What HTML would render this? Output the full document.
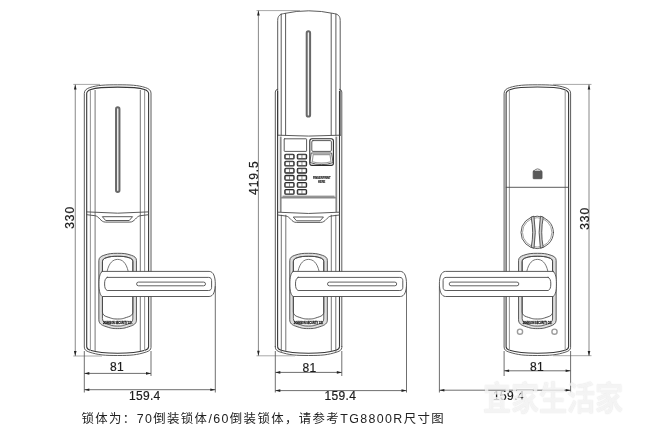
<!DOCTYPE html>
<html lang="zh-CN">
<head>
<meta charset="utf-8">
<title>TG8800R 尺寸图</title>
<style>
html,body{margin:0;padding:0;background:#fff;}
body{width:646px;height:434px;overflow:hidden;position:relative;filter:grayscale(1);font-family:"Liberation Sans","Noto Sans CJK SC",sans-serif;}
svg{position:absolute;left:0;top:0;display:block;}
.o{fill:none;stroke:#484848;stroke-width:0.9;stroke-linecap:round;stroke-linejoin:round;}
.b{fill:none;stroke:#383838;stroke-width:1.1;stroke-linejoin:round;}
.m{fill:none;stroke:#666;stroke-width:0.9;}
.s{fill:#f0f0f0;stroke:#686868;stroke-width:2.0;}
.o2{fill:none;stroke:#2a2a2a;stroke-width:1.3;stroke-linejoin:round;}
.g{fill:none;stroke:#9a9a9a;stroke-width:1.1;}
.key{fill:#808080;stroke:#2c2c2c;stroke-width:1.1;}
.gb{fill:none;stroke:#8a8a8a;stroke-width:1.8;}
.kw{fill:#fff;stroke:none;}
.d{fill:none;stroke:#555;stroke-width:0.85;}
.dv{fill:none;stroke:#7a7a7a;stroke-width:0.9;}
.de{fill:none;stroke:#a8a8a8;stroke-width:1.0;}
.a{fill:#222;stroke:none;}
.t{font-family:"Liberation Sans",sans-serif;font-size:12px;fill:#1c1c1c;letter-spacing:0.3px;stroke:#1c1c1c;stroke-width:0.2px;}
.tv{letter-spacing:0.9px;}
.brand{font-family:"Liberation Sans",sans-serif;font-size:4px;font-weight:bold;fill:#111;stroke:#111;stroke-width:0.25px;}
.fp{font-family:"Liberation Sans",sans-serif;font-size:2.6px;font-weight:bold;fill:#1a1a1a;stroke:#1a1a1a;stroke-width:0.15px;}
.cap{position:absolute;left:81.5px;top:408.8px;margin:0;font-size:12.4px;line-height:20px;letter-spacing:1.4px;color:#222;white-space:nowrap;}
.wm{position:absolute;left:483px;top:376.5px;margin:0;font-size:28px;line-height:44px;font-weight:bold;letter-spacing:0px;transform:scale(1,1.18);transform-origin:0 50%;color:rgba(255,255,255,0.72);text-shadow:0 0 1px rgba(120,120,120,0.3);white-space:nowrap;font-family:"Liberation Sans","Noto Sans CJK SC",sans-serif;}
</style>
</head>
<body>
<svg width="646" height="434" viewBox="0 0 646 434">
<defs>
<clipPath id="cm"><rect x="270" y="346" width="80" height="20"/></clipPath>
<clipPath id="cm2"><rect x="270" y="346.5" width="80" height="20"/></clipPath>
</defs>
<path class="o" d="M84.30,93.10 C84.30,90.07 86.77,88.60 89.80,87.60 C97.44,85.08 105.12,84.80 117.65,84.80 C130.18,84.80 137.86,85.08 145.50,87.60 C148.53,88.60 151.00,90.07 151.00,93.10 L151.00,347.40 C151.00,349.88 148.97,351.08 146.50,351.90 C136.68,355.14 130.63,355.50 117.65,355.50 C104.67,355.50 98.62,355.14 88.80,351.90 C86.33,351.08 84.30,349.88 84.30,347.40 Z" />
<path class="b" d="M86.70,93.60 C86.70,91.29 88.59,90.16 90.90,89.40 C97.17,87.33 105.61,87.10 117.65,87.10 C129.69,87.10 138.13,87.33 144.40,89.40 C146.71,90.16 148.60,91.29 148.60,93.60 L148.60,346.70 C148.60,348.68 146.98,349.65 145.00,350.30 C136.82,353.00 129.96,353.30 117.65,353.30 C105.34,353.30 98.48,353.00 90.30,350.30 C88.32,349.65 86.70,348.68 86.70,346.70 Z" />
<line class="g" x1="90.40" y1="90.00" x2="90.40" y2="351.00"/>
<line class="m" x1="95.10" y1="90.00" x2="95.10" y2="351.00"/>
<line class="m" x1="140.30" y1="90.00" x2="140.30" y2="351.00"/>
<line class="g" x1="144.60" y1="90.00" x2="144.60" y2="351.00"/>
<rect class="s" x="116.05" y="107.30" width="3.40" height="84.60" rx="1.7" />
<path class="o" d="M86.70,211.90 Q117.65,214.50 148.60,211.90" />
<path class="o" d="M86.70,214.70 L94.95,215.70 C99.45,216.30 100.45,222.10 105.45,222.10 L129.85,222.10 C134.85,222.10 135.85,216.30 140.35,215.70 L148.60,214.70" />
<path class="o" d="M102.75,216.70 L132.55,216.70 L129.25,220.50 L106.05,220.50 Z" />
<path class="o" d="M98.85,260.30 C98.85,257.55 101.10,256.21 103.85,255.30 C109.30,253.50 111.44,253.30 117.65,253.30 C123.86,253.30 126.00,253.50 131.45,255.30 C134.20,256.21 136.45,257.55 136.45,260.30 L136.45,320.20 C136.45,323.50 133.75,325.11 130.45,326.20 C123.90,328.36 123.41,328.60 117.65,328.60 C111.89,328.60 111.40,328.36 104.85,326.20 C101.55,325.11 98.85,323.50 98.85,320.20 Z" style="fill:#dedede"/>
<path class="o" d="M102.45,261.40 C102.45,259.42 104.07,258.45 106.05,257.80 C110.14,256.45 112.43,256.30 117.65,256.30 C122.87,256.30 125.16,256.45 129.25,257.80 C131.23,258.45 132.85,259.42 132.85,261.40 L132.85,319.00 C132.85,321.75 130.60,323.09 127.85,324.00 C122.40,325.80 122.24,326.00 117.65,326.00 C113.06,326.00 112.90,325.80 107.45,324.00 C104.70,323.09 102.45,321.75 102.45,319.00 Z" style="fill:#fff"/>
<path class="o" d="M102.45,261.40 C102.45,259.42 104.07,258.45 106.05,257.80 C110.14,256.45 112.43,256.30 117.65,256.30 C122.87,256.30 125.16,256.45 129.25,257.80 C131.23,258.45 132.85,259.42 132.85,261.40 L132.85,312.30 C132.85,314.78 130.83,315.98 128.35,316.80 C122.35,318.78 122.47,319.00 117.65,319.00 C112.84,319.00 112.95,318.78 106.95,316.80 C104.48,315.98 102.45,314.78 102.45,312.30 Z" />
<path class="m" d="M107.05,271.6 C109.05,262.5 113.15,259.4 117.65,259.4 C122.15,259.4 126.25,262.5 128.25,271.6" />
<text class="brand" transform="translate(117.65,324.3) scale(0.6,1)" text-anchor="middle">JOHNSON SECURITY CO.</text>
<path class="o" d="M102.20,271.40 L209.10,271.40 C213.50,271.40 215.30,276.90 215.30,283.95 C215.30,291.00 213.50,296.50 209.10,296.50 L102.20,296.50 C99.60,294.50 99.00,289.95 99.00,283.95 C99.00,277.95 99.60,273.40 102.20,271.40 Z" style="fill:#fff"/>
<path class="o" d="M107.20,277.40 L208.60,277.40 C210.80,277.40 211.60,278.90 211.60,280.60 L211.60,287.30 C211.60,289.00 210.80,290.50 208.60,290.50 L107.20,290.50 C105.20,289.50 104.60,287.45 104.60,283.95 C104.60,280.45 105.20,278.40 107.20,277.40 Z" />
<rect class="m" x="136.60" y="282.10" width="68.90" height="3.70" rx="1.85" style="stroke:#505050"/>
<line class="de" x1="73.30" y1="84.40" x2="100.00" y2="84.40"/>
<line class="de" x1="73.30" y1="356.00" x2="102.00" y2="356.00"/>
<line class="dv" x1="75.25" y1="84.40" x2="75.25" y2="356.00"/>
<polygon class="a" points="75.25,84.40 73.95,89.40 76.55,89.40"/>
<polygon class="a" points="75.25,356.00 73.95,351.00 76.55,351.00"/>
<text class="t tv" id="t7" text-anchor="middle" transform="translate(73.95,217.35) rotate(-90)">330</text>
<line class="d" x1="84.30" y1="351.00" x2="84.30" y2="392.50"/>
<line class="d" x1="151.00" y1="351.00" x2="151.00" y2="376.00"/>
<line class="d" x1="215.30" y1="286.00" x2="215.30" y2="392.50"/>
<line class="d" x1="84.30" y1="373.40" x2="151.00" y2="373.40"/>
<polygon class="a" points="84.30,373.40 89.30,372.10 89.30,374.70"/>
<polygon class="a" points="151.00,373.40 146.00,372.10 146.00,374.70"/>
<text class="t" id="t1" x="116.90" y="371.15" text-anchor="middle">81</text>
<line class="d" x1="84.30" y1="389.70" x2="215.30" y2="389.70"/>
<polygon class="a" points="84.30,389.70 89.30,388.40 89.30,391.00"/>
<polygon class="a" points="215.30,389.70 210.30,388.40 210.30,391.00"/>
<text class="t" id="t2" x="144.75" y="399.55" text-anchor="middle">159.4</text>
<path class="o" d="M275.30,346.5 L275.30,92 Q275.30,89.6 277.70,89.2" />
<path class="o" d="M341.80,346.5 L341.80,92 Q341.80,89.6 339.40,89.2" />
<path class="o" d="M275.30,68.70 C275.30,65.67 277.78,64.20 280.80,63.20 C289.53,60.32 296.06,60.00 308.55,60.00 C321.04,60.00 327.57,60.32 336.30,63.20 C339.32,64.20 341.80,65.67 341.80,68.70 L341.80,347.40 C341.80,349.88 339.78,351.08 337.30,351.90 C327.48,355.14 321.49,355.50 308.55,355.50 C295.61,355.50 289.62,355.14 279.80,351.90 C277.32,351.08 275.30,349.88 275.30,347.40 Z" clip-path="url(#cm)"/>
<path class="b" d="M277.60,66.80 C277.60,64.49 279.49,63.36 281.80,62.60 C288.89,60.26 296.51,60.00 308.55,60.00 C320.59,60.00 328.21,60.26 335.30,62.60 C337.61,63.36 339.50,64.49 339.50,66.80 L339.50,346.70 C339.50,348.68 337.88,349.65 335.90,350.30 C327.72,353.00 320.86,353.30 308.55,353.30 C296.24,353.30 289.38,353.00 281.20,350.30 C279.22,349.65 277.60,348.68 277.60,346.70 Z" clip-path="url(#cm2)"/>
<path class="o" d="M277.70,135.5 L277.70,20.5 C277.70,16 279.70,14.3 283.70,13.6 Q308.55,8.0 334.20,13.6 C338.20,14.3 340.20,16 340.20,20.5 L340.20,135.5" />
<line class="o" x1="281.20" y1="14.00" x2="281.20" y2="135.00"/>
<line class="o" x1="285.60" y1="13.60" x2="285.60" y2="135.00"/>
<line class="o" x1="331.20" y1="13.60" x2="331.20" y2="135.00"/>
<line class="o" x1="335.90" y1="14.00" x2="335.90" y2="135.00"/>
<rect class="s" x="306.70" y="31.20" width="3.40" height="85.40" rx="1.7" />
<path class="o" d="M277.70,135.2 Q308.55,137.0 340.20,135.2" />
<line class="gb" x1="280.70" y1="136.60" x2="280.70" y2="212.00"/>
<line class="gb" x1="336.30" y1="136.60" x2="336.30" y2="212.00"/>
<rect class="o" x="284.20" y="138.80" width="22.40" height="12.60" rx="0.5" />
<rect class="o2" x="309.80" y="138.80" width="23.60" height="26.60" rx="2.2" style="stroke-width:1.1"/>
<rect class="o" x="311.80" y="140.60" width="19.60" height="10.80" rx="1.2" />
<path class="o" d="M311.6,153.0 L331.6,153.0 L333.0,162.6 Q321.6,166.8 310.2,162.6 Z" />
<path class="g" d="M313.2,154.6 L330.0,154.6 L331.0,161.8 Q321.6,164.4 312.2,161.8 Z" />
<rect class="key" x="284.80" y="154.20" width="9.30" height="4.80" rx="1.1" />
<rect class="kw" x="285.90" y="155.20" width="3.10" height="2.80" rx="0.3" />
<rect class="kw" x="289.90" y="155.20" width="3.10" height="2.80" rx="0.3" />
<rect class="key" x="297.30" y="154.20" width="9.30" height="4.80" rx="1.1" />
<rect class="kw" x="298.40" y="155.20" width="3.10" height="2.80" rx="0.3" />
<rect class="kw" x="302.40" y="155.20" width="3.10" height="2.80" rx="0.3" />
<rect class="key" x="284.80" y="161.26" width="9.30" height="4.80" rx="1.1" />
<rect class="kw" x="285.90" y="162.26" width="3.10" height="2.80" rx="0.3" />
<rect class="kw" x="289.90" y="162.26" width="3.10" height="2.80" rx="0.3" />
<rect class="key" x="297.30" y="161.26" width="9.30" height="4.80" rx="1.1" />
<rect class="kw" x="298.40" y="162.26" width="3.10" height="2.80" rx="0.3" />
<rect class="kw" x="302.40" y="162.26" width="3.10" height="2.80" rx="0.3" />
<rect class="key" x="284.80" y="168.32" width="9.30" height="4.80" rx="1.1" />
<rect class="kw" x="285.90" y="169.32" width="3.10" height="2.80" rx="0.3" />
<rect class="kw" x="289.90" y="169.32" width="3.10" height="2.80" rx="0.3" />
<rect class="key" x="297.30" y="168.32" width="9.30" height="4.80" rx="1.1" />
<rect class="kw" x="298.40" y="169.32" width="3.10" height="2.80" rx="0.3" />
<rect class="kw" x="302.40" y="169.32" width="3.10" height="2.80" rx="0.3" />
<rect class="key" x="284.80" y="175.38" width="9.30" height="4.80" rx="1.1" />
<rect class="kw" x="285.90" y="176.38" width="3.10" height="2.80" rx="0.3" />
<rect class="kw" x="289.90" y="176.38" width="3.10" height="2.80" rx="0.3" />
<rect class="key" x="297.30" y="175.38" width="9.30" height="4.80" rx="1.1" />
<rect class="kw" x="298.40" y="176.38" width="3.10" height="2.80" rx="0.3" />
<rect class="kw" x="302.40" y="176.38" width="3.10" height="2.80" rx="0.3" />
<rect class="key" x="284.80" y="182.44" width="9.30" height="4.80" rx="1.1" />
<rect class="kw" x="285.90" y="183.44" width="3.10" height="2.80" rx="0.3" />
<rect class="kw" x="289.90" y="183.44" width="3.10" height="2.80" rx="0.3" />
<rect class="key" x="297.30" y="182.44" width="9.30" height="4.80" rx="1.1" />
<rect class="kw" x="298.40" y="183.44" width="3.10" height="2.80" rx="0.3" />
<rect class="kw" x="302.40" y="183.44" width="3.10" height="2.80" rx="0.3" />
<rect class="key" x="284.80" y="189.50" width="9.30" height="4.80" rx="1.1" />
<rect class="kw" x="285.90" y="190.50" width="3.10" height="2.80" rx="0.3" />
<rect class="kw" x="289.90" y="190.50" width="3.10" height="2.80" rx="0.3" />
<rect class="key" x="297.30" y="189.50" width="9.30" height="4.80" rx="1.1" />
<rect class="kw" x="298.40" y="190.50" width="3.10" height="2.80" rx="0.3" />
<rect class="kw" x="302.40" y="190.50" width="3.10" height="2.80" rx="0.3" />
<text class="fp" x="321.7" y="179.2" text-anchor="middle">FINGERPRINT</text>
<text class="fp" x="321.7" y="182.5" text-anchor="middle">HERE</text>
<line class="gb" x1="280.70" y1="197.60" x2="336.30" y2="197.60"/>
<line class="m" x1="282.50" y1="196.20" x2="334.50" y2="196.20"/>
<line class="b" x1="277.60" y1="91.00" x2="277.60" y2="346.80"/>
<line class="b" x1="339.50" y1="91.00" x2="339.50" y2="346.80"/>
<line class="m" x1="281.30" y1="214.80" x2="281.30" y2="351.80"/>
<line class="m" x1="285.80" y1="214.80" x2="285.80" y2="351.80"/>
<line class="m" x1="331.30" y1="214.80" x2="331.30" y2="351.80"/>
<line class="m" x1="335.80" y1="214.80" x2="335.80" y2="351.80"/>
<path class="o" d="M277.60,212.20 Q308.55,214.80 339.50,212.20" />
<path class="o" d="M277.60,215.00 L285.85,216.00 C290.35,216.60 291.35,222.40 296.35,222.40 L320.75,222.40 C325.75,222.40 326.75,216.60 331.25,216.00 L339.50,215.00" />
<path class="o" d="M293.65,217.00 L323.45,217.00 L320.15,220.80 L296.95,220.80 Z" />
<path class="o" d="M289.75,260.30 C289.75,257.55 292.00,256.21 294.75,255.30 C300.20,253.50 302.34,253.30 308.55,253.30 C314.76,253.30 316.90,253.50 322.35,255.30 C325.10,256.21 327.35,257.55 327.35,260.30 L327.35,320.20 C327.35,323.50 324.65,325.11 321.35,326.20 C314.80,328.36 314.31,328.60 308.55,328.60 C302.79,328.60 302.30,328.36 295.75,326.20 C292.45,325.11 289.75,323.50 289.75,320.20 Z" style="fill:#dedede"/>
<path class="o" d="M293.35,261.40 C293.35,259.42 294.97,258.45 296.95,257.80 C301.04,256.45 303.33,256.30 308.55,256.30 C313.77,256.30 316.06,256.45 320.15,257.80 C322.13,258.45 323.75,259.42 323.75,261.40 L323.75,319.00 C323.75,321.75 321.50,323.09 318.75,324.00 C313.30,325.80 313.14,326.00 308.55,326.00 C303.96,326.00 303.80,325.80 298.35,324.00 C295.60,323.09 293.35,321.75 293.35,319.00 Z" style="fill:#fff"/>
<path class="o" d="M293.35,261.40 C293.35,259.42 294.97,258.45 296.95,257.80 C301.04,256.45 303.33,256.30 308.55,256.30 C313.77,256.30 316.06,256.45 320.15,257.80 C322.13,258.45 323.75,259.42 323.75,261.40 L323.75,312.30 C323.75,314.78 321.73,315.98 319.25,316.80 C313.25,318.78 313.37,319.00 308.55,319.00 C303.74,319.00 303.85,318.78 297.85,316.80 C295.38,315.98 293.35,314.78 293.35,312.30 Z" />
<path class="m" d="M297.95,271.6 C299.95,262.5 304.05,259.4 308.55,259.4 C313.05,259.4 317.15,262.5 319.15,271.6" />
<text class="brand" transform="translate(308.55,324.3) scale(0.6,1)" text-anchor="middle">JOHNSON SECURITY CO.</text>
<path class="o" d="M293.10,271.40 L400.30,271.40 C404.70,271.40 406.50,276.90 406.50,283.95 C406.50,291.00 404.70,296.50 400.30,296.50 L293.10,296.50 C290.50,294.50 289.90,289.95 289.90,283.95 C289.90,277.95 290.50,273.40 293.10,271.40 Z" style="fill:#fff"/>
<path class="o" d="M298.10,277.40 L399.80,277.40 C402.00,277.40 402.80,278.90 402.80,280.60 L402.80,287.30 C402.80,289.00 402.00,290.50 399.80,290.50 L298.10,290.50 C296.10,289.50 295.50,287.45 295.50,283.95 C295.50,280.45 296.10,278.40 298.10,277.40 Z" />
<rect class="m" x="327.50" y="282.10" width="69.20" height="3.70" rx="1.85" style="stroke:#505050"/>
<line class="de" x1="256.50" y1="10.60" x2="300.00" y2="10.60"/>
<line class="de" x1="256.50" y1="355.80" x2="295.00" y2="355.80"/>
<line class="dv" x1="258.40" y1="10.60" x2="258.40" y2="355.80"/>
<polygon class="a" points="258.40,10.60 257.10,15.60 259.70,15.60"/>
<polygon class="a" points="258.40,355.80 257.10,350.80 259.70,350.80"/>
<text class="t tv" id="t8" text-anchor="middle" transform="translate(257.55,177.65) rotate(-90)">419.5</text>
<line class="d" x1="275.30" y1="351.00" x2="275.30" y2="392.50"/>
<line class="d" x1="341.80" y1="351.00" x2="341.80" y2="376.00"/>
<line class="d" x1="406.50" y1="286.00" x2="406.50" y2="392.50"/>
<line class="d" x1="275.30" y1="372.40" x2="341.80" y2="372.40"/>
<polygon class="a" points="275.30,372.40 280.30,371.10 280.30,373.70"/>
<polygon class="a" points="341.80,372.40 336.80,371.10 336.80,373.70"/>
<text class="t" id="t3" x="309.60" y="371.60" text-anchor="middle">81</text>
<line class="d" x1="275.30" y1="390.60" x2="406.50" y2="390.60"/>
<polygon class="a" points="275.30,390.60 280.30,389.30 280.30,391.90"/>
<polygon class="a" points="406.50,390.60 401.50,389.30 401.50,391.90"/>
<text class="t" id="t4" x="340.35" y="399.95" text-anchor="middle">159.4</text>
<path class="o" d="M504.10,93.10 C504.10,90.07 506.58,88.60 509.60,87.60 C517.24,85.08 524.86,84.80 537.35,84.80 C549.84,84.80 557.46,85.08 565.10,87.60 C568.12,88.60 570.60,90.07 570.60,93.10 L570.60,347.40 C570.60,349.88 568.58,351.08 566.10,351.90 C556.28,355.14 550.29,355.50 537.35,355.50 C524.41,355.50 518.42,355.14 508.60,351.90 C506.12,351.08 504.10,349.88 504.10,347.40 Z" />
<path class="b" d="M506.10,93.80 C506.10,91.38 508.08,90.20 510.50,89.40 C517.05,87.24 525.27,87.00 537.35,87.00 C549.43,87.00 557.65,87.24 564.20,89.40 C566.62,90.20 568.60,91.38 568.60,93.80 L568.60,346.70 C568.60,348.68 566.98,349.65 565.00,350.30 C556.82,353.00 549.79,353.30 537.35,353.30 C524.91,353.30 517.88,353.00 509.70,350.30 C507.72,349.65 506.10,348.68 506.10,346.70 Z" />
<line class="g" x1="509.40" y1="90.00" x2="509.40" y2="351.00"/>
<line class="g" x1="565.20" y1="90.00" x2="565.20" y2="351.00"/>
<line class="o" x1="506.20" y1="187.30" x2="568.50" y2="187.30"/>
<path class="m" d="M533.3,171.4 Q537.6,166.4 541.9,171.4 Z" style="fill:#fff"/>
<rect class="o" x="533.20" y="171.20" width="8.80" height="7.50" rx="0.4" style="fill:#5a5a5a;stroke:#555"/>
<circle class="o" cx="537.2" cy="232.4" r="16.2"/>
<circle class="g" cx="537.2" cy="232.4" r="14.7" style="stroke-width:0.9"/>
<path class="o" d="M531.20,217.50 Q534.20,232.40 531.20,247.30 L534.00,248.20 Q536.60,232.40 534.00,216.60 Z" style="fill:#cfcfcf"/>
<path class="o" d="M543.20,217.50 Q540.20,232.40 543.20,247.30 L540.40,248.20 Q537.80,232.40 540.40,216.60 Z" style="fill:#cfcfcf"/>
<path class="o" d="M518.55,260.30 C518.55,257.55 520.80,256.21 523.55,255.30 C529.00,253.50 531.14,253.30 537.35,253.30 C543.56,253.30 545.70,253.50 551.15,255.30 C553.90,256.21 556.15,257.55 556.15,260.30 L556.15,320.20 C556.15,323.50 553.45,325.11 550.15,326.20 C543.60,328.36 543.11,328.60 537.35,328.60 C531.59,328.60 531.10,328.36 524.55,326.20 C521.25,325.11 518.55,323.50 518.55,320.20 Z" style="fill:#dedede"/>
<path class="o" d="M522.15,261.40 C522.15,259.42 523.77,258.45 525.75,257.80 C529.84,256.45 532.13,256.30 537.35,256.30 C542.57,256.30 544.86,256.45 548.95,257.80 C550.93,258.45 552.55,259.42 552.55,261.40 L552.55,319.00 C552.55,321.75 550.30,323.09 547.55,324.00 C542.10,325.80 541.94,326.00 537.35,326.00 C532.76,326.00 532.60,325.80 527.15,324.00 C524.40,323.09 522.15,321.75 522.15,319.00 Z" style="fill:#fff"/>
<path class="o" d="M522.15,261.40 C522.15,259.42 523.77,258.45 525.75,257.80 C529.84,256.45 532.13,256.30 537.35,256.30 C542.57,256.30 544.86,256.45 548.95,257.80 C550.93,258.45 552.55,259.42 552.55,261.40 L552.55,312.30 C552.55,314.78 550.52,315.98 548.05,316.80 C542.05,318.78 542.16,319.00 537.35,319.00 C532.54,319.00 532.65,318.78 526.65,316.80 C524.18,315.98 522.15,314.78 522.15,312.30 Z" />
<path class="m" d="M526.75,271.6 C528.75,262.5 532.85,259.4 537.35,259.4 C541.85,259.4 545.95,262.5 547.95,271.6" />
<text class="brand" transform="translate(537.35,324.3) scale(0.6,1)" text-anchor="middle">JOHNSON SECURITY CO.</text>
<circle cx="520.0" cy="331.7" r="2.6" style="fill:#fff;stroke:#9c9c9c;stroke-width:1.4"/>
<circle cx="554.5" cy="331.7" r="2.6" style="fill:#fff;stroke:#9c9c9c;stroke-width:1.4"/>
<path class="o" d="M553.20,271.40 L445.60,271.40 C441.20,271.40 439.40,276.90 439.40,283.95 C439.40,291.00 441.20,296.50 445.60,296.50 L553.20,296.50 C555.80,294.50 556.40,289.95 556.40,283.95 C556.40,277.95 555.80,273.40 553.20,271.40 Z" style="fill:#fff"/>
<path class="o" d="M548.20,277.40 L446.10,277.40 C443.90,277.40 443.10,278.90 443.10,280.60 L443.10,287.30 C443.10,289.00 443.90,290.50 446.10,290.50 L548.20,290.50 C550.20,289.50 550.80,287.45 550.80,283.95 C550.80,280.45 550.20,278.40 548.20,277.40 Z" />
<rect class="m" x="449.20" y="282.10" width="69.60" height="3.70" rx="1.85" style="stroke:#505050"/>
<line class="de" x1="553.00" y1="84.40" x2="591.50" y2="84.40"/>
<line class="de" x1="553.00" y1="355.70" x2="591.50" y2="355.70"/>
<line class="dv" x1="589.00" y1="84.40" x2="589.00" y2="356.00"/>
<polygon class="a" points="589.00,84.40 587.70,89.40 590.30,89.40"/>
<polygon class="a" points="589.00,356.00 587.70,351.00 590.30,351.00"/>
<text class="t tv" id="t9" text-anchor="middle" transform="translate(588.85,218.35) rotate(-90)">330</text>
<line class="d" x1="504.10" y1="351.00" x2="504.10" y2="376.00"/>
<line class="d" x1="570.60" y1="351.00" x2="570.60" y2="392.50"/>
<line class="d" x1="439.40" y1="286.00" x2="439.40" y2="392.50"/>
<line class="d" x1="504.10" y1="370.80" x2="570.60" y2="370.80"/>
<polygon class="a" points="504.10,370.80 509.10,369.50 509.10,372.10"/>
<polygon class="a" points="570.60,370.80 565.60,369.50 565.60,372.10"/>
<text class="t" id="t5" x="536.90" y="371.15" text-anchor="middle">81</text>
<line class="d" x1="439.40" y1="390.20" x2="570.60" y2="390.20"/>
<polygon class="a" points="439.40,390.20 444.40,388.90 444.40,391.50"/>
<polygon class="a" points="570.60,390.20 565.60,388.90 565.60,391.50"/>
<text class="t" id="t6" x="508.80" y="399.55" text-anchor="middle">159.4</text>
</svg>
<p class="cap">锁体为：70倒装锁体/60倒装锁体，请参考TG8800R尺寸图</p>
<p class="wm">宜家生活家</p>
</body>
</html>
